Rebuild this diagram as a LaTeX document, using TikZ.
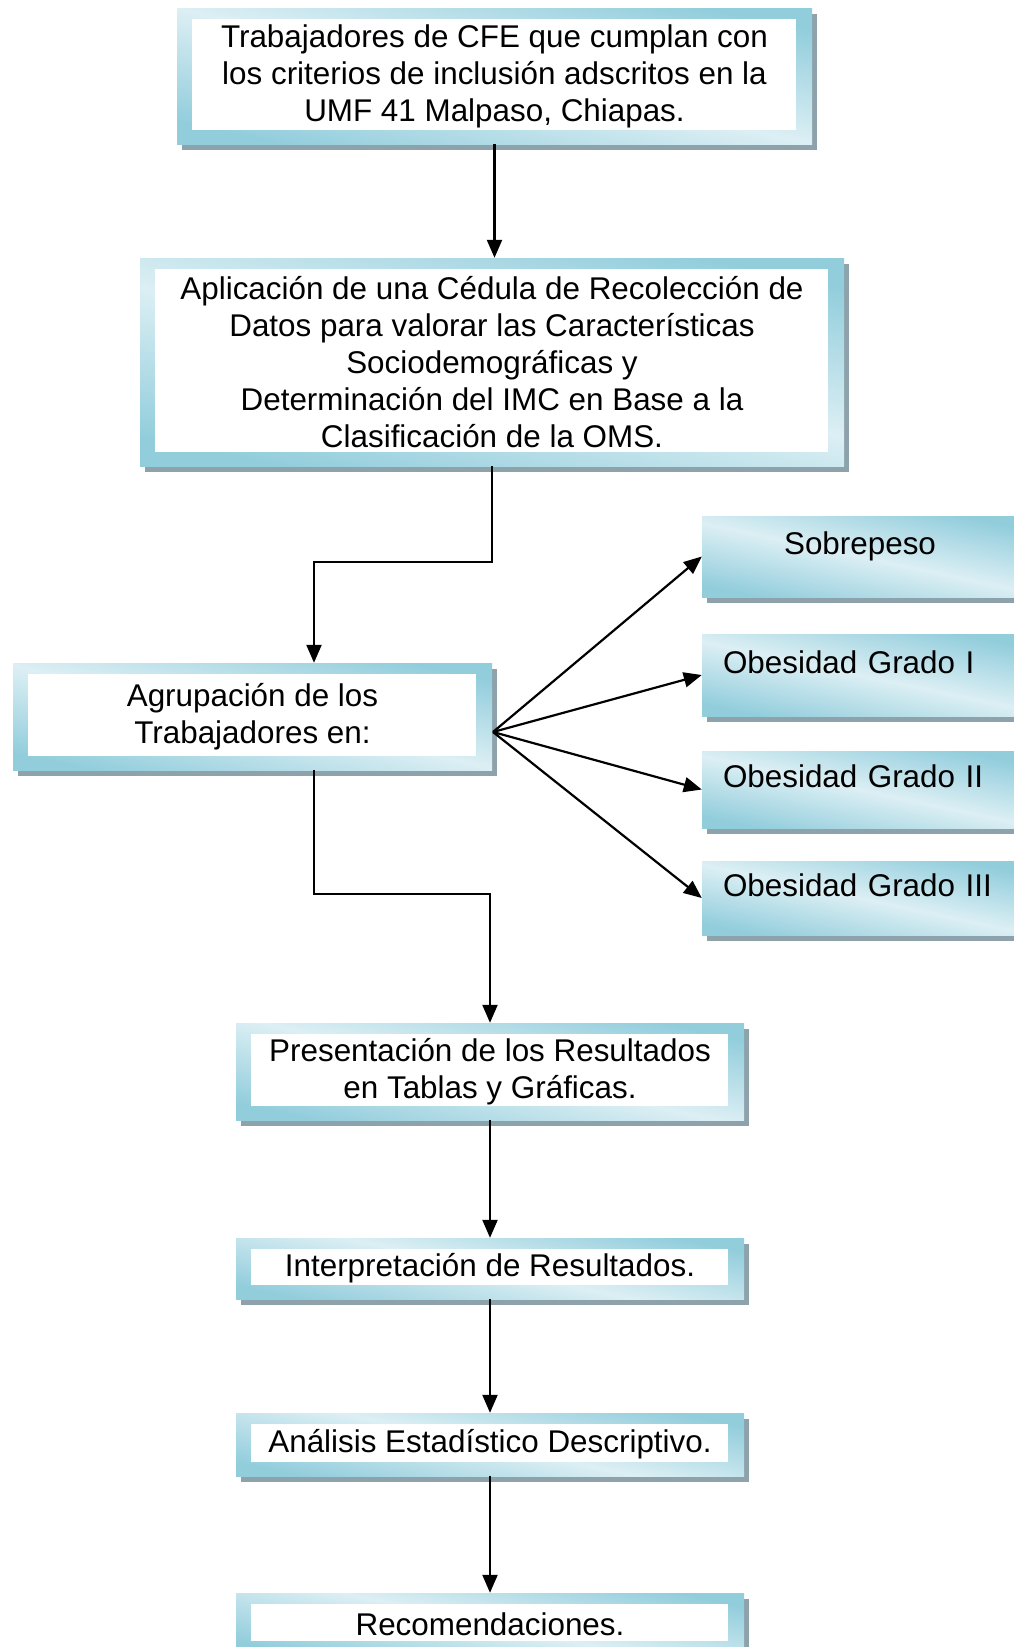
\documentclass[tikz,border=0pt]{standalone}
\usepackage{fontspec}
\setmainfont{Liberation Sans}
\usetikzlibrary{arrows.meta, calc, positioning, shadows}
\definecolor{aguaosc}{HTML}{92CDDC}
\definecolor{aguacla}{HTML}{DCEFF4}
\definecolor{sombra}{HTML}{8DA2AA}

\begin{document}
\begin{tikzpicture}[x=1pt, y=-1pt,
    marco/.style={rectangle, inner sep=0pt, align=center,
        font=\fontsize{31.4}{37}\selectfont,
        top color=aguaosc, bottom color=aguaosc, middle color=aguacla,
        shading angle=-12,
        general shadow={fill=sombra, shadow xshift=5pt, shadow yshift=-6pt}},
    caja/.style={marco,
        path picture={\fill[white] ([xshift=15pt,yshift=-11pt]path picture bounding box.north west)
            rectangle ([xshift=-16pt,yshift=14pt]path picture bounding box.south east);}},
    grado/.style={marco, minimum width=316pt, text depth=26pt},
    flecha/.style={-{Triangle[length=18pt,width=15pt]}, line width=2.2pt}]
    \clip (0,0) rectangle (1014,1647);
    \fill[white] (0,0) rectangle (1014,1647);

    \node[caja, minimum width=635pt, minimum height=136pt] (trab) at (494.5,76)
        {Trabajadores de CFE que cumplan con\\los criterios de inclusión adscritos en la\\UMF 41 Malpaso, Chiapas.};
    \node[caja, minimum width=704pt, minimum height=208pt] (apl) at (492,362)
        {Aplicación de una Cédula de Recolección de\\Datos para valorar las Características\\Sociodemográficas y\\Determinación del IMC en Base a la\\Clasificación de la OMS.};
    \node[caja, minimum width=479pt, minimum height=107pt] (agr) at (252.5,716.5)
        {Agrupación de los\\Trabajadores en:};

    % grupos de IMC
    \node[grado, minimum height=81pt] (sobre) at (860,556.5) {Sobrepeso};
    \node[grado, minimum height=82pt, text width=274pt, align=left] (ob1) at (860,675) {Obesidad Grado I};
    \node[grado, minimum height=77pt, text width=274pt, align=left] (ob2) at (860,789.5) {Obesidad Grado II};
    \node[grado, minimum height=74pt, text width=274pt, align=left] (ob3) at (860,898) {Obesidad Grado III};

    \node[caja, minimum width=508pt, minimum height=97pt] (pres) at (490,1071.5)
        {Presentación de los Resultados\\en Tablas y Gráficas.};
    \node[caja, minimum width=508pt, minimum height=61pt] (interp) at (490,1268.5)
        {Interpretación de Resultados.};
    \node[caja, minimum width=508pt, minimum height=63pt] (anal) at (490,1444.5)
        {Análisis Estadístico Descriptivo.};
    \node[caja, minimum width=508pt, minimum height=62pt] (recom) at (490,1624)
        {Recomendaciones.};

    \coordinate (abanico) at (493,732);

    \draw[flecha] (trab.south) -- (trab.south |- apl.north);
    \draw[flecha] (apl.south) -- ++(0,96) -| ([xshift=61.5pt]agr.north);
    \foreach \g in {sobre, ob1, ob2, ob3}
        \draw[flecha] (abanico) -- (\g.west);
    \draw[flecha] ([xshift=61.5pt]agr.south) -- ++(0,124) -| (pres.north);
    \draw[flecha] (pres) -- (interp);
    \draw[flecha] (interp) -- (anal);
    \draw[flecha] (anal) -- (recom);
\end{tikzpicture}
\end{document}
